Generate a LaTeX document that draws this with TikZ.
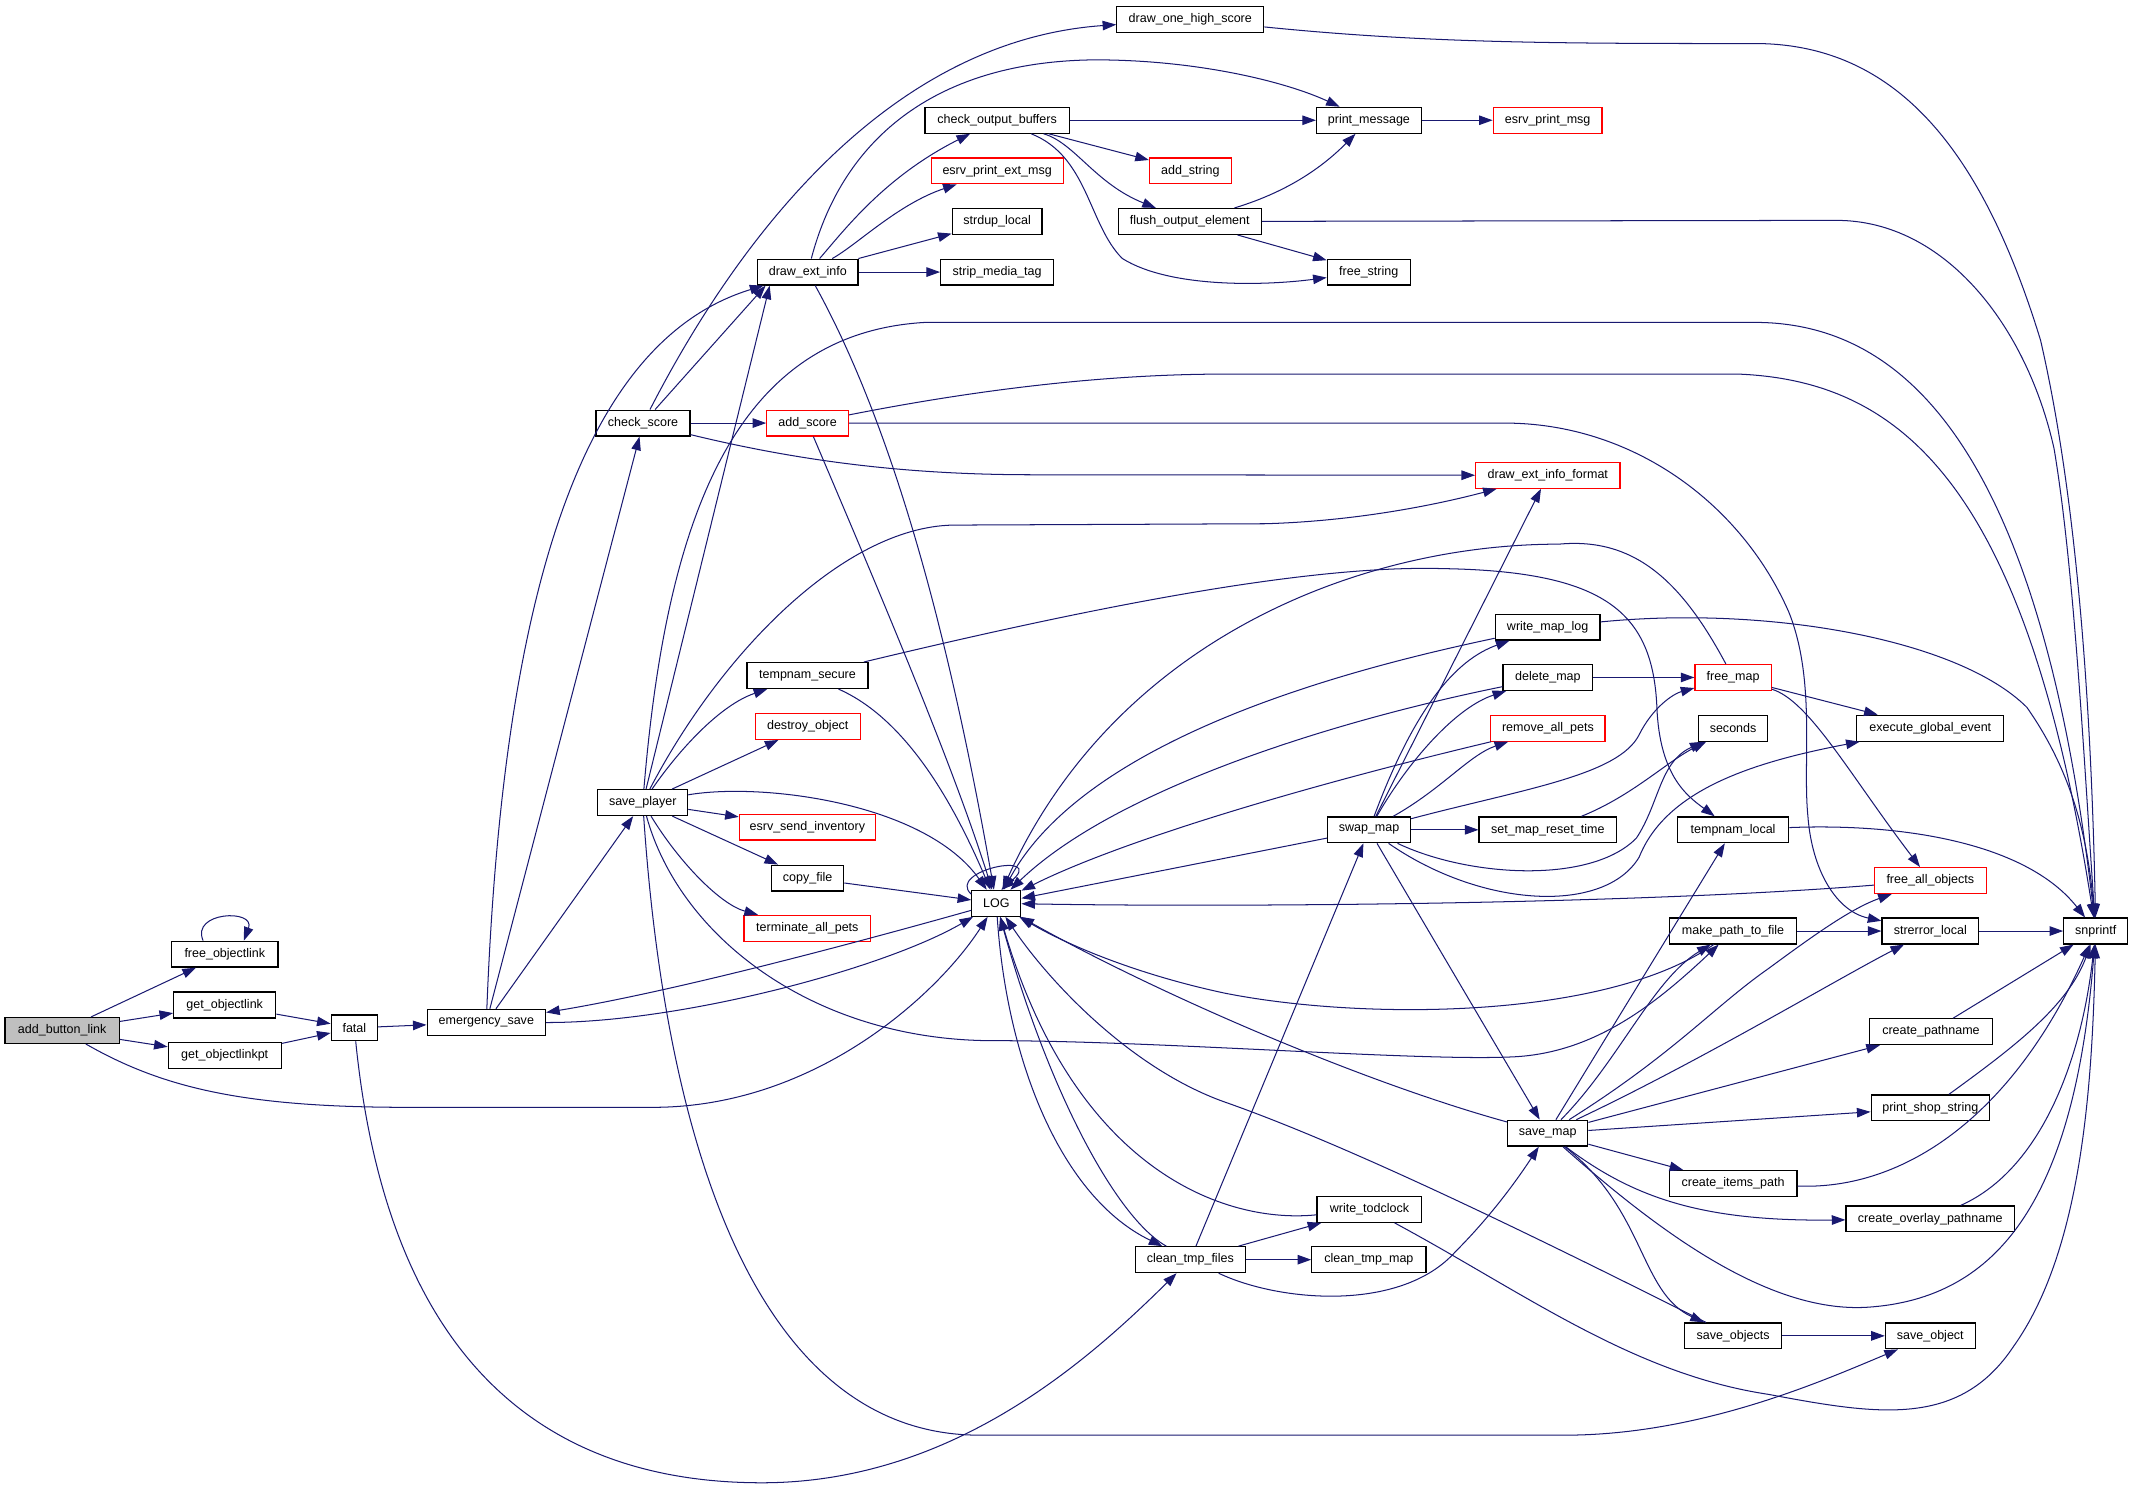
\documentclass[tikz,border=0pt]{standalone}
\usepackage{fontspec}
\setmainfont{Liberation Sans}
\usetikzlibrary{arrows.meta}
\definecolor{edgeblue}{HTML}{191970}
\tikzset{
  fn/.style={draw=black, line width=0.9pt, fill=white, minimum height=19pt, inner sep=1.5pt, font=\fontsize{9.2}{11}\selectfont},
  fnred/.style={fn, draw=red},
  fnroot/.style={fn, fill=black!25},
  call/.style={draw=edgeblue, line width=0.75pt, -{Triangle[length=10pt,width=7pt]}}
}
\begin{document}
\begin{tikzpicture}[x=1pt, y=-1pt]
  \useasboundingbox (0,0) rectangle (1568,1098);
  % functions
  \node[fnroot, minimum width=84] (add_button_link) at (45.7,757.5) {add\_button\_link};
  \node[fn, minimum width=78] (free_objectlink) at (165.3,701.4) {free\_objectlink};
  \node[fn, minimum width=75] (get_objectlink) at (165.2,738.8) {get\_objectlink};
  \node[fn, minimum width=83] (get_objectlinkpt) at (165.2,776) {get\_objectlinkpt};
  \node[fn, minimum width=34] (fatal) at (260.5,755.6) {fatal};
  \node[fn, minimum width=87] (emergency_save) at (357.5,751.5) {emergency\_save};
  \node[fn, minimum width=69] (check_score) at (472.7,311) {check\_score};
  \node[fn, minimum width=66] (save_player) at (472.5,590) {save\_player};
  \node[fn, minimum width=74] (draw_ext_info) at (593.8,200) {draw\_ext\_info};
  \node[fn, minimum width=108] (draw_one_high_score) at (875,14.3) {draw\_one\_high\_score};
  \node[fn, minimum width=106] (check_output_buffers) at (733,88.4) {check\_output\_buffers};
  \node[fnred, minimum width=97] (esrv_print_ext_msg) at (733,125.6) {esrv\_print\_ext\_msg};
  \node[fn, minimum width=66] (strdup_local) at (733,162.8) {strdup\_local};
  \node[fn, minimum width=83] (strip_media_tag) at (733,200) {strip\_media\_tag};
  \node[fnred, minimum width=60] (add_score) at (593.7,311) {add\_score};
  \node[fn, minimum width=89] (tempnam_secure) at (593.6,496.6) {tempnam\_secure};
  \node[fnred, minimum width=77] (destroy_object) at (593.8,534) {destroy\_object};
  \node[fnred, minimum width=100] (esrv_send_inventory) at (593.5,608) {esrv\_send\_inventory};
  \node[fn, minimum width=53] (copy_file) at (593.7,645.5) {copy\_file};
  \node[fnred, minimum width=93] (terminate_all_pets) at (593.5,682.4) {terminate\_all\_pets};
  \node[fn, minimum width=36] (LOG) at (732.4,664) {LOG};
  \node[fn, minimum width=81] (clean_tmp_files) at (875,926) {clean\_tmp\_files};
  \node[fn, minimum width=77] (print_message) at (1006.3,88.4) {print\_message};
  \node[fnred, minimum width=80] (esrv_print_msg) at (1137.7,88.4) {esrv\_print\_msg};
  \node[fnred, minimum width=60] (add_string) at (875,125.6) {add\_string};
  \node[fn, minimum width=105] (flush_output_element) at (874.6,162.8) {flush\_output\_element};
  \node[fn, minimum width=61] (free_string) at (1006.2,200) {free\_string};
  \node[fnred, minimum width=106] (draw_ext_info_format) at (1137.8,349.4) {draw\_ext\_info\_format};
  \node[fn, minimum width=61] (swap_map) at (1006.4,610) {swap\_map};
  \node[fn, minimum width=77] (write_map_log) at (1137.7,461) {write\_map\_log};
  \node[fn, minimum width=66] (delete_map) at (1137.9,498) {delete\_map};
  \node[fnred, minimum width=84] (remove_all_pets) at (1137.9,535.3) {remove\_all\_pets};
  \node[fn, minimum width=101] (set_map_reset_time) at (1137.8,610) {set\_map\_reset\_time};
  \node[fnred, minimum width=56] (free_map) at (1274,498) {free\_map};
  \node[fn, minimum width=51] (seconds) at (1274,535.3) {seconds};
  \node[fn, minimum width=82] (tempnam_local) at (1274,610) {tempnam\_local};
  \node[fn, minimum width=108] (execute_global_event) at (1419,535.3) {execute\_global\_event};
  \node[fnred, minimum width=82] (free_all_objects) at (1419,647.3) {free\_all\_objects};
  \node[fn, minimum width=93] (make_path_to_file) at (1274,684.4) {make\_path\_to\_file};
  \node[fn, minimum width=71] (strerror_local) at (1419,684.4) {strerror\_local};
  \node[fn, minimum width=47] (snprintf) at (1540.6,684.4) {snprintf};
  \node[fn, minimum width=59] (save_map) at (1137.7,833) {save\_map};
  \node[fn, minimum width=90] (create_pathname) at (1419.5,758.4) {create\_pathname};
  \node[fn, minimum width=87] (print_shop_string) at (1419,814.4) {print\_shop\_string};
  \node[fn, minimum width=94] (create_items_path) at (1274,870) {create\_items\_path};
  \node[fn, minimum width=124] (create_overlay_pathname) at (1419,896) {create\_overlay\_pathname};
  \node[fn, minimum width=77] (write_todclock) at (1006.7,889) {write\_todclock};
  \node[fn, minimum width=84] (clean_tmp_map) at (1006.3,926) {clean\_tmp\_map};
  \node[fn, minimum width=71] (save_objects) at (1274,982) {save\_objects};
  \node[fn, minimum width=66] (save_object) at (1419,982) {save\_object};

  % left part
  \draw[call] (add_button_link) -- (free_objectlink);
  \draw[call] (add_button_link) -- (get_objectlink);
  \draw[call] (add_button_link) -- (get_objectlinkpt);
  \draw[call] (add_button_link) .. controls (120,800) and (180,814) .. (300,814) -- (480,814) .. controls (600,814) and (690,730) .. (LOG);
  \draw[call] ([xshift=-16pt]free_objectlink.north) .. controls (140,670) and (188,668) .. ([xshift=14pt]free_objectlink.north);
  \draw[call] (get_objectlink) -- (fatal);
  \draw[call] (get_objectlinkpt) -- (fatal);
  \draw[call] (fatal) -- (emergency_save);
  \draw[call] (fatal) .. controls (285,1000) and (400,1090) .. (560,1090) .. controls (700,1090) and (800,1000) .. (clean_tmp_files);
  \draw[call] (emergency_save) -- (check_score);
  \draw[call] (emergency_save) -- (save_player);
  \draw[call] (emergency_save) .. controls (370,430) and (430,250) .. (draw_ext_info);
  \draw[call] (emergency_save) .. controls (500,752) and (650,712) .. (LOG);
  \draw[call] (LOG) .. controls (640,690) and (500,728) .. (emergency_save);

  % check_score, save_player
  \draw[call] (check_score) .. controls (540,180) and (650,30) .. (draw_one_high_score);
  \draw[call] (check_score) -- ([xshift=-31pt]draw_ext_info.south);
  \draw[call] (check_score) -- (add_score);
  \draw[call] (check_score) .. controls (600,342) and (680,349) .. (760,349) -- (draw_ext_info_format);
  \draw[call] (save_player) -- ([xshift=-28pt]draw_ext_info.south);
  \draw[call] (save_player) .. controls (490,380) and (540,245) .. (680,237) -- (1290,237) .. controls (1400,237) and (1500,330) .. (snprintf);
  \draw[call] (save_player) .. controls (530,480) and (620,388) .. (700,386) -- (930,385) .. controls (1000,383) and (1060,370) .. (draw_ext_info_format);
  \draw[call] (save_player) .. controls (500,550) and (530,518) .. (tempnam_secure);
  \draw[call] (save_player) -- (destroy_object);
  \draw[call] (save_player) -- (esrv_send_inventory);
  \draw[call] (save_player) -- (copy_file);
  \draw[call] (save_player) .. controls (500,635) and (530,665) .. (terminate_all_pets);
  \draw[call] (save_player) .. controls (560,575) and (680,590) .. (LOG);
  \draw[call] (save_player) .. controls (500,690) and (600,765) .. (730,765) .. controls (850,765) and (1040,780) .. (1110,777) .. controls (1170,775) and (1215,740) .. (make_path_to_file);
  \draw[call] (save_player) .. controls (490,850) and (560,1055) .. (720,1055) -- (1150,1055) .. controls (1250,1055) and (1340,1015) .. (save_object);

  % draw_ext_info and the top row
  \draw[call] (draw_ext_info) .. controls (620,100) and (690,45) .. (805,44) .. controls (880,44) and (945,60) .. (print_message);
  \draw[call] (draw_ext_info) .. controls (620,170) and (650,130) .. (check_output_buffers);
  \draw[call] (draw_ext_info) .. controls (630,180) and (660,150) .. (esrv_print_ext_msg);
  \draw[call] (draw_ext_info) -- (strdup_local);
  \draw[call] (draw_ext_info) -- (strip_media_tag);
  \draw[call] (draw_ext_info) .. controls (660,320) and (700,480) .. (LOG);
  \draw[call] (check_output_buffers) -- (print_message);
  \draw[call] (check_output_buffers) -- (add_string);
  \draw[call] (check_output_buffers) .. controls (790,105) and (805,135) .. (flush_output_element);
  \draw[call] (check_output_buffers) .. controls (800,115) and (800,165) .. (825,190) .. controls (860,212) and (930,210) .. (free_string);
  \draw[call] (print_message) -- (esrv_print_msg);
  \draw[call] (flush_output_element) .. controls (950,140) and (975,120) .. (print_message);
  \draw[call] (flush_output_element) -- (free_string);
  \draw[call] (flush_output_element) -- (1350,162) .. controls (1430,162) and (1490,240) .. (1510,330) .. controls (1525,420) and (1532,560) .. (snprintf);
  \draw[call] (draw_one_high_score) .. controls (1050,32) and (1150,32) .. (1290,32) .. controls (1400,32) and (1460,120) .. (1500,250) .. controls (1530,380) and (1538,550) .. (snprintf);

  % add_score, tempnam_secure, copy_file
  \draw[call] (add_score) .. controls (700,290) and (800,275) .. (900,275) -- (1278,275) .. controls (1400,280) and (1490,360) .. (snprintf);
  \draw[call] (add_score) -- (1106,311) .. controls (1200,311) and (1280,370) .. (1315,450) .. controls (1335,500) and (1325,560) .. (1329,600) .. controls (1332,640) and (1350,670) .. (strerror_local);
  \draw[call] (add_score) .. controls (640,420) and (700,560) .. (LOG);
  \draw[call] (tempnam_secure) .. controls (670,530) and (705,600) .. (LOG);
  \draw[call] (tempnam_secure) .. controls (800,447) and (960,415) .. (1061,418) .. controls (1180,420) and (1215,450) .. (1218,520) .. controls (1220,570) and (1240,585) .. (tempnam_local);
  \draw[call] (copy_file) -- (LOG);

  % LOG and clean_tmp_files
  \draw[call] (LOG.160) .. controls (695,640) and (770,625) .. (LOG.70);
  \draw[call] (LOG) .. controls (740,780) and (780,880) .. (clean_tmp_files);
  \draw[call] (clean_tmp_files) .. controls (820,895) and (770,800) .. (LOG);
  \draw[call] (clean_tmp_files) -- (swap_map);
  \draw[call] (clean_tmp_files) -- (write_todclock);
  \draw[call] (clean_tmp_files) -- (clean_tmp_map);
  \draw[call] (clean_tmp_files) .. controls (940,957) and (1030,965) .. (1070,920) .. controls (1100,890) and (1120,860) .. (save_map);
  \draw[call] (write_todclock) .. controls (900,900) and (790,860) .. (LOG);
  \draw[call] (write_todclock) .. controls (1120,950) and (1200,1010) .. (1300,1025) .. controls (1380,1040) and (1440,1050) .. (1480,990) .. controls (1530,920) and (1538,800) .. (snprintf);

  % swap_map
  \draw[call] (swap_map) -- (LOG);
  \draw[call] (swap_map) -- (draw_ext_info_format);
  \draw[call] (swap_map) .. controls (1040,520) and (1070,485) .. (write_map_log);
  \draw[call] (swap_map) .. controls (1035,560) and (1070,520) .. (delete_map);
  \draw[call] (swap_map) .. controls (1060,580) and (1080,555) .. (remove_all_pets);
  \draw[call] (swap_map) .. controls (1120,580) and (1190,570) .. (1205,540) .. controls (1215,520) and (1230,510) .. (free_map);
  \draw[call] (swap_map) -- (set_map_reset_time);
  \draw[call] (swap_map) .. controls (1080,645) and (1170,650) .. (1203,616) .. controls (1220,590) and (1220,560) .. (seconds);
  \draw[call] (swap_map) .. controls (1090,668) and (1180,672) .. (1205,630) .. controls (1225,580) and (1290,560) .. (execute_global_event);
  \draw[call] (swap_map) -- (save_map);
  \draw[call] (write_map_log) .. controls (1000,490) and (800,540) .. (LOG);
  \draw[call] (write_map_log) .. controls (1300,445) and (1440,470) .. (1490,520) .. controls (1525,570) and (1535,620) .. (snprintf);
  \draw[call] (delete_map) .. controls (980,530) and (820,580) .. (LOG);
  \draw[call] (delete_map) -- (free_map);
  \draw[call] (remove_all_pets) .. controls (950,580) and (820,620) .. (LOG);
  \draw[call] (set_map_reset_time) .. controls (1200,585) and (1225,560) .. (seconds);
  \draw[call] (free_map) .. controls (1235,425) and (1200,395) .. (1146,400) .. controls (1000,400) and (820,470) .. (LOG);
  \draw[call] (free_map) -- (execute_global_event);
  \draw[call] (free_map) .. controls (1330,515) and (1360,570) .. (free_all_objects);
  \draw[call] (tempnam_local) .. controls (1400,605) and (1490,620) .. (snprintf);
  \draw[call] (free_all_objects) .. controls (1200,665) and (900,667) .. (LOG);
  \draw[call] (make_path_to_file) -- (strerror_local);
  \draw[call] (make_path_to_file) .. controls (1180,750) and (1000,750) .. (900,730) .. controls (830,715) and (780,692) .. (LOG);
  \draw[call] (strerror_local) -- (snprintf);

  % save_map
  \draw[call] (save_map) .. controls (1000,795) and (850,730) .. (LOG);
  \draw[call] (save_map) -- (tempnam_local);
  \draw[call] (save_map) .. controls (1190,780) and (1215,720) .. (make_path_to_file);
  \draw[call] (save_map) .. controls (1230,775) and (1260,740) .. (1300,712) .. controls (1330,690) and (1360,668) .. (free_all_objects);
  \draw[call] (save_map) .. controls (1250,780) and (1350,720) .. (strerror_local);
  \draw[call] (save_map) -- (create_pathname);
  \draw[call] (save_map) -- (print_shop_string);
  \draw[call] (save_map) -- (create_items_path);
  \draw[call] (save_map) .. controls (1200,880) and (1250,898) .. (create_overlay_pathname);
  \draw[call] (save_map) .. controls (1220,906) and (1300,965) .. (1372,961) .. controls (1470,955) and (1525,880) .. (snprintf);
  \draw[call] (save_map) .. controls (1210,890) and (1205,950) .. (save_objects);
  \draw[call] (create_pathname) -- (snprintf);
  \draw[call] (print_shop_string) .. controls (1480,770) and (1520,740) .. (snprintf);
  \draw[call] (create_items_path) .. controls (1400,875) and (1480,820) .. (snprintf);
  \draw[call] (create_overlay_pathname) .. controls (1500,860) and (1530,780) .. (snprintf);
  \draw[call] (save_objects) -- (save_object);
  \draw[call] (save_objects) .. controls (1150,920) and (1000,845) .. (900,810) .. controls (830,785) and (770,720) .. (LOG);
\end{tikzpicture}
\end{document}
